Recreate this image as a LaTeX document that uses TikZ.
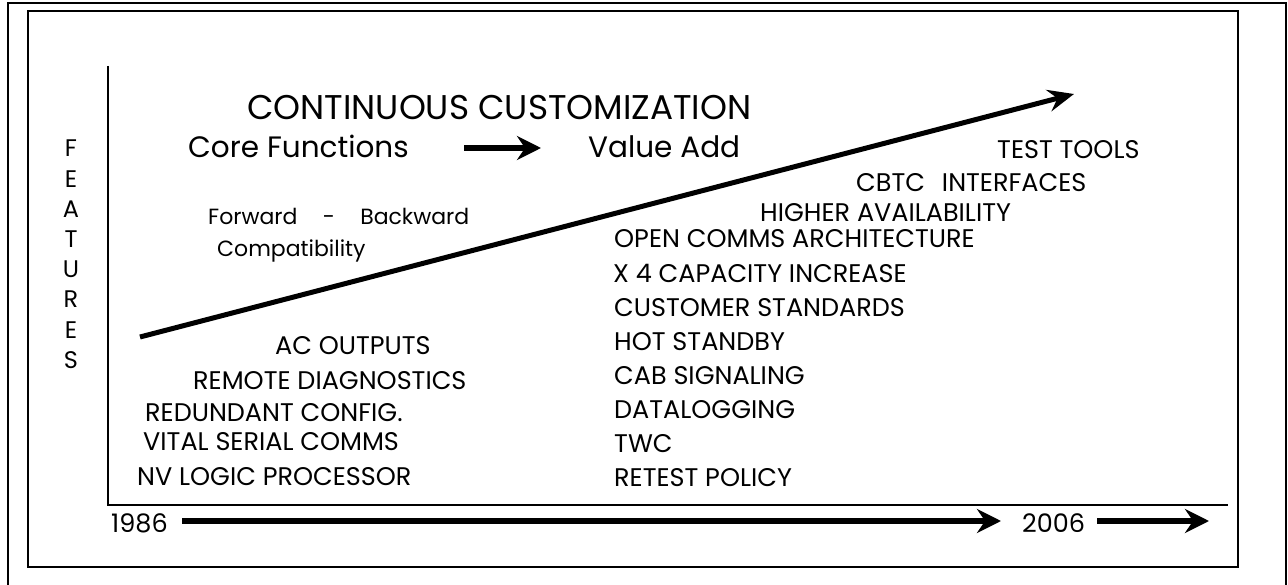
\documentclass[tikz,border=0pt]{standalone}
\usepackage{fontspec}
\setmainfont{Poppins}
\usetikzlibrary{arrows.meta}
\begin{document}
\begin{tikzpicture}[x=1pt,y=-1pt,
  lbl/.style={anchor=base west, inner sep=0pt, font=\fontsize{25.5}{25.5}\selectfont},
  ttl/.style={anchor=base west, inner sep=0pt, font=\fontsize{34.3}{34.3}\selectfont},
  big/.style={anchor=base west, inner sep=0pt, font=\fontsize{29.5}{29.5}\selectfont},
  mid/.style={anchor=base west, inner sep=0pt, font=\fontsize{22}{22}\selectfont},
  yr/.style={anchor=base west, inner sep=0pt, font=\fontsize{25.5}{25.5}\selectfont},
  vlet/.style={anchor=base, inner sep=0pt, font=\fontsize{24}{24}\selectfont},
  frame/.style={line width=2pt},
  axis/.style={line width=1.4pt},
  fatarrow/.style={line width=5.5pt, -{Stealth[length=24pt,width=24pt,inset=8pt]}},
  diagarrow/.style={line width=5pt, -{Stealth[length=26pt,width=22pt,inset=9pt]}}]
\useasboundingbox (0,0) rectangle (1288,585);
% outer frame
\draw[frame] (8,585) -- (8,3) -- (1286,3) -- (1286,585);
% inner frame
\draw[frame] (28,11) rectangle (1238,567);
% axes
\coordinate (ytop) at (108,66);
\coordinate (orig) at (108,505);
\coordinate (xend) at (1228,505);
\draw[axis] (ytop) -- (orig) -- (xend);
% FEATURES
\foreach \l [count=\i from 0] in {F,E,A,T,U,R,E,S}
  \node[vlet] (f\i) at (71,{157+30.2*\i}) {\l};
% title
\node[ttl] (title) at (247,120) {CONTINUOUS CUSTOMIZATION};
\node[big] (core) at (188,158) {Core Functions};
\node[big] (value) at (588,158) {Value Add};
\coordinate (ca) at (464,148);
\coordinate (cb) at (541,148);
\draw[fatarrow] (ca) -- (cb);
% forward backward
\node[mid] (fwd) at (208,225) {Forward\hspace{1.15em}-\hspace{1.15em}Backward};
\node[mid] (compat) at (217,257) {Compatibility};
% diagonal arrow
\coordinate (d0) at (140,337);
\coordinate (d1) at (1074,94);
\draw[diagarrow] (d0) -- (d1);
% left list
\node[lbl] (ac) at (275,354) {AC OUTPUTS};
\node[lbl] (rd) at (193,389) {REMOTE DIAGNOSTICS};
\node[lbl] (rc) at (145,421) {REDUNDANT CONFIG.};
\node[lbl] (vs) at (143,450) {VITAL SERIAL COMMS};
\node[lbl] (nv) at (137,485) {NV LOGIC PROCESSOR};
% right list
\node[lbl] (tt) at (997,159) {TEST TOOLS};
\node[lbl] (cb) at (856,192) {CBTC\hspace{0.4em} INTERFACES};
\node[lbl] (ha) at (760,222) {HIGHER AVAILABILITY};
\node[lbl] (oc) at (614,248) {OPEN COMMS ARCHITECTURE};
\node[lbl] (x4) at (613,283) {X 4 CAPACITY INCREASE};
\node[lbl] (cs) at (614,317) {CUSTOMER STANDARDS};
\node[lbl] (hs) at (614,350) {HOT STANDBY};
\node[lbl] (cab) at (614,384) {CAB SIGNALING};
\node[lbl] (dl) at (614,418) {DATALOGGING};
\node[lbl] (twc) at (614,452) {TWC};
\node[lbl] (rp) at (614,486) {RETEST POLICY};
% time axis
\node[yr] (y1) at (111,532) {1986};
\node[yr] (y2) at (1022,532) {2006};
\coordinate (t0) at (182,521);
\coordinate (t1) at (1001,521);
\coordinate (t2) at (1097,521);
\coordinate (t3) at (1209,521);
\draw[fatarrow] (t0) -- (t1);
\draw[fatarrow] (t2) -- (t3);
\end{tikzpicture}
\end{document}
